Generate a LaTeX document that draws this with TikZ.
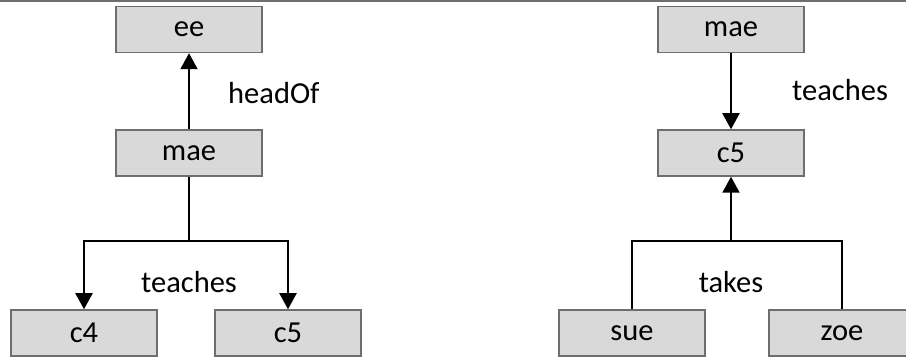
\documentclass[tikz,border=0pt]{standalone}
\usepackage{fontspec}
\setmainfont{Carlito}
\usetikzlibrary{arrows.meta}
\definecolor{boxfill}{RGB}{217,217,217}
\definecolor{boxline}{RGB}{110,110,110}
\tikzset{
  ent/.style={rectangle, draw=boxline, line width=1.5pt, fill=boxfill,
    minimum width=146pt, minimum height=46pt, inner sep=0pt,
    font=\fontsize{30.5}{36}\selectfont},
  lbl/.style={inner sep=0pt, font=\fontsize{30.5}{36}\selectfont},
  conn/.style={line width=2pt, black},
  arr/.style={conn, -{Triangle[width=17pt,length=16pt]}}
}
\begin{document}
\begin{tikzpicture}[x=1pt,y=-1pt]
\useasboundingbox (0,0) rectangle (906,358);
\draw[boxline, line width=2pt] (0,1) -- (906,1);
% left tree
\node[ent] (ee) at (189,29.5) {ee};
\node[ent] (maeL) at (189,153) {mae};
\node[ent] (c4) at (84,333) {c4};
\node[ent] (c5L) at (288,333) {c5};
\coordinate (jL) at (189,241);
\draw[arr] (maeL) -- (ee);
\draw[conn] (maeL.south) -- (jL);
\draw[arr] (jL) -| (c4.north);
\draw[arr] (jL) -| (c5L.north);
\node[lbl, anchor=west] (hd) at (228,93) {headOf};
\node[lbl] (tchL) at (189,282) {teaches};
% right tree
\node[ent] (maeR) at (731,29.5) {mae};
\node[ent] (c5R) at (731,153) {c5};
\node[ent] (sue) at (632,333) {sue};
\node[ent] (zoe) at (842,333) {zoe};
\coordinate (jR) at (731,241);
\draw[arr] (maeR) -- (c5R);
\draw[arr] (jR) -- (c5R.south);
\draw[conn] (sue.north) |- (jR) -| (zoe.north);
\node[lbl, anchor=west] (tchR) at (792,90) {teaches};
\node[lbl] (tk) at (731,282) {takes};
\end{tikzpicture}
\end{document}
